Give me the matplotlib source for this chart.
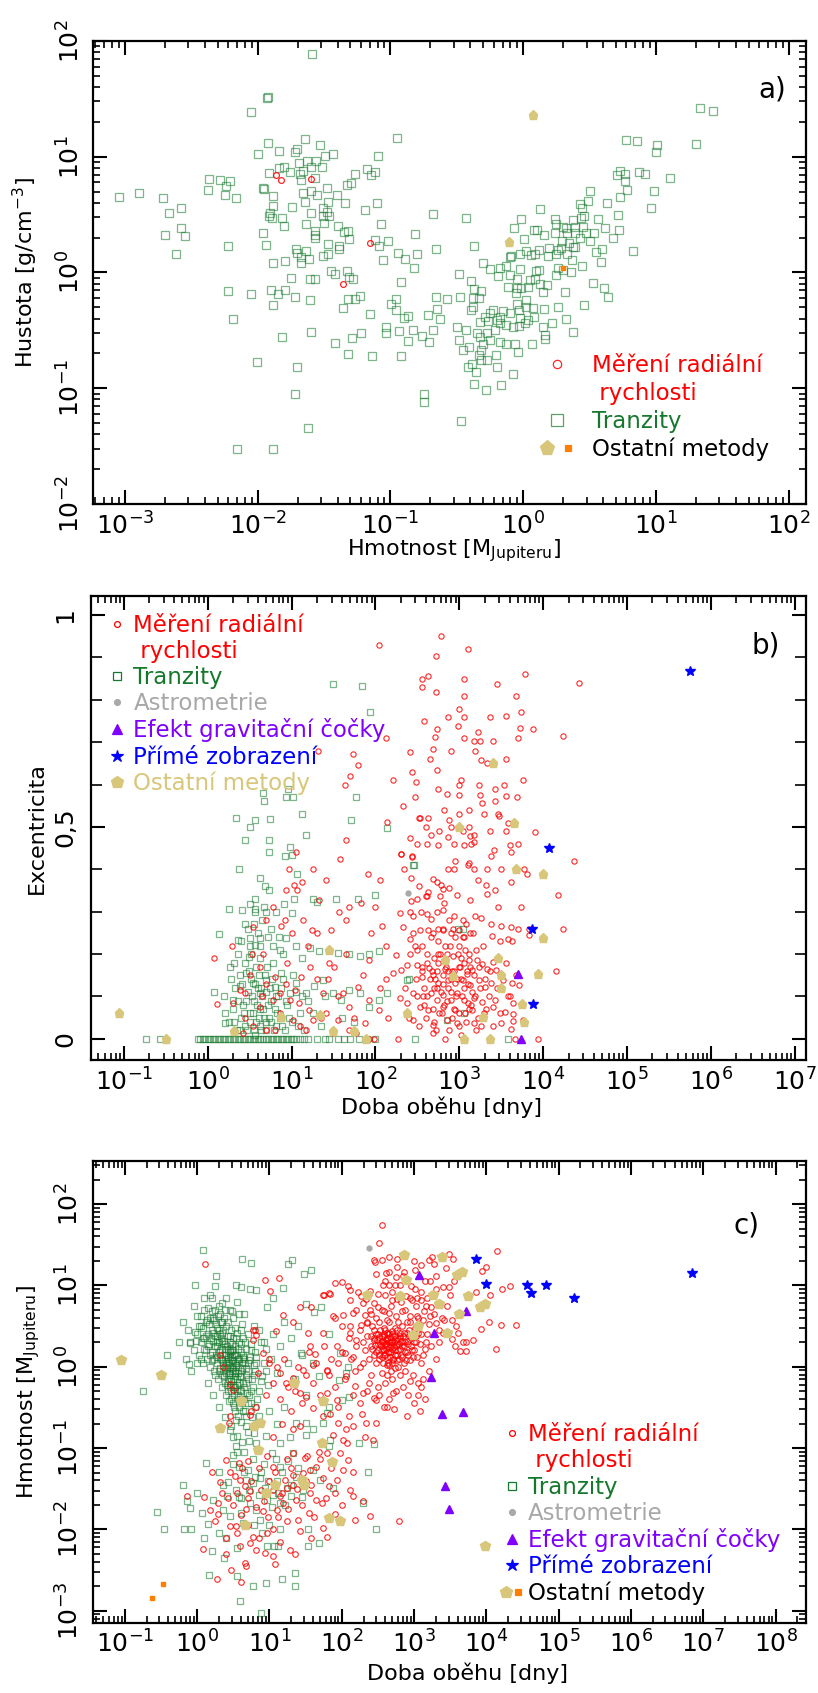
import numpy as np
import matplotlib.pyplot as plt
from matplotlib.lines import Line2D
from matplotlib.legend_handler import HandlerTuple
from matplotlib.ticker import LogLocator, NullFormatter, MultipleLocator

RED = '#ff0000'
GREEN = '#16782c'
GRAY = '#a8a8a8'
PURPLE = '#8000ff'
BLUE = '#0000ff'
KHAKI = '#d8c67a'
ORANGE = '#ff7f00'

# all pairs: (log10 x, log10 y) for a) and c), (log10 P, e) for b)

# ---- a) hmotnost vs hustota
a_transit = [
    (-1.588, 1.888), (-1.93, 1.51), (-1.92, 1.52), (-2.048, 1.386), (-0.95, 1.164), (-1.922, 1.12),
    (-1.64, 1.153), (-1.84, 1.05), (-2.0, 1.02), (-1.706, 1.066), (-1.72, 1.04), (-1.53, 1.10),
    (-1.435, 1.026), (-1.49, 1.006), (-1.095, 1.01), (-1.69, 0.942), (-1.626, 0.965), (-1.56, 0.96),
    (-1.515, 0.914), (-1.6, 0.914), (-1.80, 0.91), (-1.84, 0.905), (-1.915, 0.856), (-1.756, 0.87),
    (-1.68, 0.847), (-1.656, 0.876), (-1.568, 0.818), (-1.67, 0.80), (-1.266, 0.85), (-1.173, 0.893),
    (-1.113, 0.87), (-1.146, 0.844), (-1.294, 0.775), (-1.33, 0.755),
    (-3.045, 0.654), (-2.89, 0.689), (-2.71, 0.643), (-2.67, 0.516), (-2.575, 0.556), (-2.58, 0.38),
    (-2.55, 0.314), (-2.70, 0.323), (-2.616, 0.164), (-2.364, 0.81), (-2.284, 0.80), (-2.21, 0.79),
    (-2.24, 0.75), (-2.374, 0.715), (-2.246, 0.67), (-2.163, 0.643), (-2.224, 0.233), (-2.224, -0.164),
    (-2.186, -0.40), (-2.05, -0.184), (-2.005, -0.772), (-2.156, -1.525), (-1.887, -1.525),
    (-1.62, -1.34), (-1.72, -1.05), (-1.70, -0.82), (-1.82, -0.553),
    (-1.96, 0.727), (-1.955, 0.72), (-1.882, 0.66), (-1.887, 0.576), (-1.907, 0.513), (-1.915, 0.49),
    (-1.894, 0.467), (-1.817, 0.47), (-1.80, 0.398), (-1.96, 0.337), (-1.94, 0.24), (-1.887, 0.078),
    (-1.794, 0.098), (-1.74, 0.565), (-1.66, 0.69), (-1.64, 0.605), (-1.60, 0.706), (-1.55, 0.67),
    (-1.48, 0.732), (-1.47, 0.608), (-1.40, 0.67), (-1.34, 0.60), (-1.595, 0.51), (-1.505, 0.553),
    (-1.48, 0.52), (-1.46, 0.49), (-1.51, 0.487), (-1.50, 0.43), (-1.633, 0.418), (-1.57, 0.36),
    (-1.565, 0.30), (-1.568, 0.32), (-1.397, 0.398), (-1.35, 0.35), (-1.32, 0.357), (-1.31, 0.288),
    (-1.467, 0.25), (-1.467, 0.16), (-1.39, 0.233), (-1.385, 0.20), (-1.71, 0.20), (-1.706, 0.17),
    (-1.636, 0.187), (-1.67, 0.13), (-1.613, 0.115), (-1.676, 0.084), (-1.51, 0.14), (-1.746, -0.046),
    (-1.606, -0.055), (-1.568, -0.06), (-1.445, 0.009), (-1.417, -0.01), (-1.324, 0.009), (-1.31, -0.043),
    (-1.28, -0.06), (-1.90, -0.153), (-1.796, -0.15), (-1.85, -0.187), (-1.887, -0.277), (-1.72, -0.21),
    (-1.603, -0.24), (-1.60, -0.51), (-1.42, -0.605), (-1.36, -0.303), (-1.32, -0.23), (-1.266, -0.23),
    (-1.226, -0.20), (-1.156, -0.357), (-1.224, -0.525), (-1.286, -0.57), (-1.317, -0.70), (-1.136, -0.723),
    (-1.03, -0.475), (-1.03, -0.527),
    (-1.068, 0.415), (-1.115, 0.28), (-1.083, 0.23), (-1.055, 0.11), (-1.015, 0.275), (-1.103, 0.60),
    (-1.19, 0.536), (-0.945, 0.17), (-0.89, 0.115), (-0.814, 0.33), (-0.80, 0.16), (-0.82, 0.04),
    (-0.676, 0.507), (-0.656, 0.20), (-0.92, -0.084), (-0.957, -0.225), (-0.996, -0.268), (-0.957, -0.325),
    (-0.897, -0.389), (-0.867, -0.378), (-0.932, -0.507), (-0.865, -0.594), (-0.829, -0.50), (-0.76, -0.55),
    (-0.706, -0.60), (-0.676, -0.50), (-0.92, -0.723), (-0.656, -0.21), (-0.575, -0.228), (-0.72, -0.37),
    (-0.65, -0.314), (-0.626, -0.406), (-0.746, -1.046), (-0.746, -1.118),
    (1.33, 1.42), (1.43, 1.395), (0.774, 1.147), (0.854, 1.138), (1.01, 1.10), (1.0, 1.04), (1.30, 1.11),
    (1.105, 0.82), (0.726, 0.88), (0.708, 0.84), (0.769, 0.847), (0.769, 0.79), (0.874, 0.865), (0.92, 0.847),
    (0.78, 0.71), (0.985, 0.706), (0.965, 0.553), (0.729, 0.648), (0.63, 0.60), (0.50, 0.70), (0.49, 0.617),
    (0.43, 0.59), (0.44, 0.553), (0.455, 0.49), (0.435, 0.467), (0.711, 0.496), (0.56, 0.458), (0.72, 0.366),
    (0.68, 0.297), (0.618, 0.38), (0.535, 0.343), (0.505, 0.274), (0.593, 0.20), (0.55, 0.173), (0.585, 0.092),
    (0.827, 0.187), (0.377, 0.45), (0.394, 0.395), (0.45, 0.395), (0.47, 0.337), (0.32, 0.38), (0.327, 0.343),
    (0.394, 0.337), (0.427, 0.294), (0.24, 0.464), (0.25, 0.415), (0.30, 0.395), (0.24, 0.337), (0.128, 0.545),
    (-0.018, 0.46), (-0.07, 0.38), (0.008, 0.288), (0.083, 0.366), (0.105, 0.366), (0.156, 0.323), (0.29, 0.27),
    (0.347, 0.254), (0.372, 0.222), (0.392, 0.216), (0.286, 0.213), (0.33, 0.164), (0.196, 0.21), (0.264, 0.193),
    (0.25, 0.164), (0.188, 0.141), (0.12, 0.193), (0.09, 0.164), (0.058, 0.15), (0.025, 0.184), (-0.025, 0.164),
    (-0.088, 0.144), (0.364, 0.107), (0.442, 0.055), (0.36, 0.0), (0.30, 0.02), (0.25, -0.023), (0.266, 0.04),
    (0.523, -0.095), (0.605, -0.13), (0.64, -0.21), (0.455, -0.28), (0.372, -0.51), (0.32, -0.40), (0.314, -0.167),
    (0.266, -0.30), (0.214, -0.438), (0.163, -0.574), (0.163, -0.539), (0.07, -0.614), (0.15, -0.473),
    (0.156, -0.317), (0.118, 0.02), (0.10, 0.014), (0.088, -0.06), (0.05, -0.066), (0.038, -0.124),
    (-0.013, -0.138), (-0.055, -0.176), (0.146, -0.167), (0.126, -0.10), (0.176, -0.11), (0.025, -0.24),
    (0.02, -0.297), (0.075, -0.31), (0.08, -0.383), (0.033, -0.41), (-0.025, -0.39), (-0.05, -0.27),
    (-0.033, -0.326), (-0.10, -0.354), (-0.15, -0.33), (-0.176, -0.383), (-0.126, -0.455), (-0.075, -0.47),
    (-0.035, -0.458), (0.01, -0.435), (-0.226, -0.326), (-0.25, -0.354), (-0.264, -0.418), (-0.20, -0.412),
    (-0.176, -0.44), (-0.29, -0.383), (-0.214, -0.50), (-0.276, -0.527), (-0.327, -0.427), (-0.35, -0.527),
    (-0.377, -0.297), (-0.39, -0.326), (-0.314, -0.16), (-0.30, 0.078), (-0.25, 0.026), (-0.176, 0.04),
    (-0.126, 0.055), (-0.186, -0.03), (-0.10, -0.023), (-0.05, -0.055), (-0.118, -0.124), (-0.05, -0.138),
    (-0.025, 0.026), (-0.10, 0.135), (-0.372, 0.23), (-0.427, 0.475), (-0.48, -0.017), (-0.394, -0.072),
    (-0.37, -0.144), (-0.33, -0.22), (-0.477, -0.21), (-0.377, -0.22), (-0.50, -0.47), (-0.427, -0.50),
    (-0.407, -0.643), (-0.452, -0.666), (-0.48, -0.585), (-0.327, -0.556), (-0.30, -0.62), (-0.25, -0.585),
    (-0.176, -0.60), (-0.126, -0.614), (-0.063, -0.62), (-0.038, -0.686), (-0.314, -0.666), (-0.334, -0.715),
    (-0.314, -0.758), (-0.27, -0.758), (-0.206, -0.715), (-0.196, -0.815), (-0.415, -0.82), (-0.382, -0.79),
    (-0.357, -0.86), (-0.372, -0.96), (-0.281, -1.017), (-0.17, -0.968), (-0.08, -0.88), (-0.472, -1.28),
]
a_rv = [(-1.862, 0.84), (-1.824, 0.80), (-1.595, 0.807), (-1.156, 0.256), (-1.36, -0.098)]
a_other = [(0.075, 1.36), (-0.105, 0.265)]
a_other_sq = [(0.30, 0.037)]

# ---- b) doba obehu vs excentricita
b_rv = [
    (2.04, 0.93), (2.78, 0.95), (2.72, 0.903), (3.10, 0.92), (3.78, 0.86), (4.43, 0.84), (2.55, 0.829),
    (2.63, 0.856), (2.56, 0.85), (3.05, 0.85), (3.45, 0.837), (3.67, 0.81), (2.72, 0.818), (3.05, 0.81),
    (3.0, 0.778), (3.74, 0.77), (3.55, 0.762), (3.37, 0.76), (3.06, 0.759), (2.86, 0.76), (2.58, 0.75),
    (2.98, 0.739), (4.24, 0.714), (3.88, 0.73), (3.72, 0.733), (3.70, 0.71), (3.22, 0.724), (2.73, 0.73),
    (2.71, 0.712), (2.12, 0.71), (3.05, 0.709), (3.18, 0.702), (3.25, 0.702), (3.40, 0.702), (2.69, 0.685),
    (2.90, 0.68), (3.19, 0.68), (3.26, 0.657), (3.33, 0.65), (3.55, 0.66), (2.41, 0.677), (2.65, 0.661),
    (1.73, 0.673), (1.79, 0.645), (1.31, 0.68), (2.73, 0.634), (2.43, 0.63), (1.70, 0.62), (1.64, 0.60),
    (2.21, 0.61), (2.48, 0.605), (3.02, 0.61), (2.99, 0.60), (3.23, 0.60), (3.42, 0.59), (3.76, 0.61),
    (3.53, 0.60), (2.74, 0.59), (2.47, 0.57), (2.85, 0.578), (2.99, 0.576), (3.25, 0.576), (3.55, 0.573),
    (3.69, 0.57), (3.42, 0.562), (2.33, 0.55), (2.82, 0.54), (3.11, 0.54), (3.46, 0.53), (3.47, 0.525),
    (3.29, 0.53), (2.99, 0.53), (2.52, 0.52), (2.63, 0.52), (2.14, 0.512), (2.90, 0.50), (3.11, 0.50),
    (3.58, 0.51), (3.65, 0.51), (3.36, 0.49), (3.55, 0.49), (2.60, 0.50), (2.66, 0.48), (2.76, 0.49),
    (3.17, 0.48), (3.13, 0.478), (2.87, 0.476), (3.04, 0.49), (3.90, 0.488), (2.50, 0.459), (2.61, 0.459),
    (2.745, 0.457), (2.93, 0.46), (3.06, 0.457), (3.14, 0.46), (3.60, 0.457), (1.65, 0.468), (2.31, 0.436),
    (2.43, 0.432), (3.38, 0.432), (4.36, 0.42),
    (2.53, 0.52), (2.88, 0.517), (3.27, 0.556), (2.41, 0.473), (2.31, 0.435), (2.44, 0.43), (3.17, 0.465),
    (3.41, 0.446), (3.70, 0.46), (3.62, 0.44),
    (2.34, 0.40), (2.42, 0.38), (2.52, 0.36), (2.63, 0.346), (2.73, 0.37), (2.81, 0.353), (2.97, 0.34),
    (3.17, 0.40), (3.22, 0.375), (3.32, 0.363), (3.42, 0.35), (3.33, 0.342), (3.62, 0.37), (3.73, 0.31),
    (3.46, 0.31), (3.50, 0.267), (3.61, 0.263), (3.77, 0.40), (3.80, 0.39), (3.67, 0.40), (3.33, 0.40),
    (3.49, 0.40), (2.86, 0.40), (2.93, 0.40), (3.10, 0.41), (3.11, 0.415), (2.95, 0.42), (2.68, 0.377),
    (2.78, 0.364), (2.50, 0.33), (2.60, 0.337), (2.42, 0.326), (2.62, 0.336), (2.77, 0.336), (2.88, 0.357),
    (2.82, 0.32), (3.13, 0.328), (3.19, 0.29), (3.26, 0.285), (3.38, 0.27), (3.385, 0.243), (3.48, 0.23),
    (3.58, 0.235), (3.63, 0.23), (3.70, 0.26), (3.83, 0.244), (3.83, 0.26), (4.15, 0.16), (4.23, 0.26),
    (4.17, 0.34),
    (2.29, 0.296), (2.41, 0.30), (2.45, 0.29), (2.54, 0.30), (2.61, 0.295), (2.66, 0.283), (2.73, 0.30),
    (2.81, 0.303), (2.88, 0.28), (2.94, 0.29), (3.04, 0.28), (3.08, 0.27), (3.13, 0.25), (3.06, 0.24),
    (3.0, 0.257), (2.90, 0.25), (2.81, 0.257), (2.74, 0.26), (2.69, 0.25), (2.63, 0.257), (2.53, 0.257),
    (2.41, 0.235), (2.33, 0.263), (2.45, 0.25),
    (2.25, 0.198), (2.41, 0.20), (2.49, 0.21), (2.61, 0.20), (2.70, 0.19), (2.77, 0.20), (2.83, 0.186),
    (2.92, 0.196), (3.02, 0.19), (3.11, 0.185), (3.21, 0.186), (3.27, 0.177), (3.33, 0.164), (3.40, 0.182),
    (3.44, 0.163), (3.15, 0.163), (3.09, 0.153), (3.0, 0.169), (2.91, 0.159), (2.83, 0.164), (2.73, 0.161),
    (2.64, 0.167), (2.56, 0.159), (2.49, 0.175), (2.37, 0.175), (2.30, 0.163), (2.21, 0.156), (2.56, 0.147),
    (2.69, 0.151), (2.75, 0.131), (2.86, 0.138), (2.95, 0.131), (3.04, 0.139), (3.13, 0.127), (3.23, 0.139),
    (3.31, 0.123), (3.38, 0.131), (3.52, 0.139), (3.63, 0.131), (3.71, 0.126),
    (2.45, 0.108), (2.57, 0.10), (2.66, 0.108), (2.73, 0.092), (2.81, 0.104), (2.90, 0.092), (2.97, 0.108),
    (3.05, 0.092), (3.10, 0.084), (3.17, 0.096), (3.27, 0.088), (3.35, 0.10), (3.42, 0.092), (3.58, 0.10),
    (3.64, 0.084), (2.29, 0.096), (2.37, 0.084), (2.53, 0.076), (2.63, 0.068), (2.81, 0.076), (2.95, 0.068),
    (3.07, 0.06), (3.15, 0.068), (3.29, 0.06), (3.40, 0.076), (3.54, 0.064), (3.64, 0.059), (2.45, 0.045),
    (2.69, 0.033), (2.85, 0.045), (2.97, 0.037), (3.17, 0.037), (3.50, 0.037), (3.62, 0.023), (2.27, 0.0),
    (2.83, 0.0), (3.66, 0.0), (3.94, 0.0), (2.69, 0.013), (3.76, 0.045), (3.64, 0.041),
    (2.7, 0.12), (2.85, 0.2), (3.0, 0.22), (2.9, 0.14), (3.05, 0.18), (2.95, 0.24), (3.1, 0.13), (2.8, 0.15),
    (3.2, 0.21), (2.75, 0.23), (2.65, 0.14), (3.15, 0.11),
    (2.35, 0.12), (2.40, 0.05), (2.48, 0.14), (2.52, 0.03), (2.55, 0.22), (2.58, 0.12), (2.60, 0.05),
    (2.62, 0.18), (2.66, 0.24), (2.68, 0.07), (2.71, 0.14), (2.74, 0.20), (2.76, 0.06), (2.78, 0.11),
    (2.80, 0.26), (2.82, 0.08), (2.84, 0.17), (2.87, 0.12), (2.89, 0.22), (2.91, 0.05), (2.93, 0.16),
    (2.96, 0.10), (2.98, 0.20), (3.00, 0.06), (3.02, 0.14), (3.04, 0.24), (3.06, 0.12), (3.08, 0.04),
    (3.12, 0.20), (3.14, 0.08), (3.18, 0.15), (3.22, 0.05), (3.25, 0.12), (3.28, 0.22), (3.32, 0.07),
    (3.36, 0.16), (3.40, 0.03), (3.45, 0.12), (3.48, 0.06), (3.55, 0.18), (3.60, 0.10), (3.68, 0.15),
    (2.88, 0.02), (2.72, 0.02), (3.02, 0.01), (3.20, 0.02),
    (2.62, 0.10), (2.67, 0.16), (2.70, 0.04), (2.73, 0.12), (2.75, 0.18), (2.79, 0.06), (2.81, 0.13),
    (2.83, 0.22), (2.85, 0.09), (2.87, 0.16), (2.90, 0.11), (2.92, 0.26), (2.94, 0.07), (2.97, 0.14),
    (2.99, 0.03), (3.01, 0.17), (3.03, 0.10), (3.07, 0.21), (3.09, 0.16), (3.11, 0.07), (3.13, 0.17),
    (3.16, 0.25), (3.19, 0.10), (3.23, 0.17), (3.26, 0.03), (3.30, 0.14), (2.58, 0.08), (2.55, 0.17),
    (2.50, 0.10), (2.47, 0.22),
    (1.20, 0.22), (1.35, 0.05), (1.45, 0.18), (1.55, 0.10), (1.65, 0.20), (1.75, 0.05), (1.85, 0.15),
    (1.95, 0.25), (2.05, 0.12), (2.15, 0.05), (0.95, 0.18), (1.10, 0.03), (0.80, 0.02), (0.65, 0.10),
    (0.50, 0.15), (0.45, 0.05), (1.00, 0.25), (1.30, 0.25),
    (1.25, 0.40), (1.03, 0.363), (1.13, 0.37), (0.93, 0.35), (1.06, 0.35), (0.97, 0.40), (1.41, 0.375),
    (1.58, 0.424), (1.69, 0.31), (1.57, 0.30), (1.47, 0.257), (1.24, 0.257), (1.14, 0.28), (0.92, 0.28),
    (0.78, 0.31), (0.70, 0.28), (0.54, 0.263), (0.29, 0.218), (0.08, 0.19), (0.115, 0.083), (0.30, 0.084),
    (0.44, 0.108), (0.53, 0.20), (0.66, 0.20), (0.62, 0.17), (0.70, 0.13), (0.80, 0.147), (0.86, 0.108),
    (0.98, 0.092), (1.04, 0.116), (1.11, 0.147), (1.22, 0.17), (1.30, 0.14), (1.37, 0.108), (1.44, 0.14),
    (1.51, 0.17), (1.61, 0.108), (1.69, 0.076), (1.79, 0.123), (1.92, 0.186), (2.08, 0.265), (2.0, 0.31),
    (2.05, 0.375), (1.91, 0.39), (2.12, 0.218), (1.92, 0.092), (2.04, 0.068), (2.12, 0.14), (1.69, 0.021),
    (1.49, 0.013), (1.17, 0.021), (1.02, 0.045), (0.86, 0.06), (0.70, 0.021), (0.54, 0.03), (0.42, 0.013),
    (1.55, 0.045), (1.41, 0.06), (1.21, 0.068), (1.09, 0.084), (1.25, 0.045), (1.87, 0.037), (1.77, 0.013),
    (1.98, 0.0), (1.92, 0.0), (1.65, 0.28), (1.83, 0.32), (1.33, 0.328), (1.055, 0.44), (0.88, 0.265),
    (0.38, 0.115), (0.62, 0.076), (0.78, 0.092), (0.94, 0.13),
]
b_transit = [
    (1.50, 0.837), (1.845, 0.833), (1.94, 0.771),
    (0.66, 0.58), (0.67, 0.562), (0.96, 0.59), (1.02, 0.57), (0.93, 0.57), (1.77, 0.57), (1.12, 0.53),
    (0.34, 0.52), (0.57, 0.517), (0.74, 0.518), (0.51, 0.50), (1.71, 0.516), (2.14, 0.497), (0.45, 0.47),
    (0.73, 0.47), (1.17, 0.48), (0.73, 0.44), (0.92, 0.432), (0.98, 0.452), (1.01, 0.433), (0.37, 0.40),
    (0.62, 0.38), (1.06, 0.39), (0.26, 0.307), (0.415, 0.304), (0.56, 0.306), (0.565, 0.33), (0.51, 0.318),
    (0.67, 0.312), (0.73, 0.35), (0.905, 0.317), (1.0, 0.298), (1.035, 0.33), (1.25, 0.33), (1.30, 0.323),
    (1.53, 0.33), (1.795, 0.33), (0.13, 0.247), (0.36, 0.232), (0.50, 0.238), (0.62, 0.237), (0.32, 0.18),
    (0.27, 0.17), (0.49, 0.194), (0.57, 0.222), (0.78, 0.218), (0.86, 0.21), (0.94, 0.237), (1.055, 0.219),
    (1.13, 0.19), (1.225, 0.215), (1.33, 0.206), (1.55, 0.202), (1.69, 0.20), (1.81, 0.196), (1.92, 0.20),
    (2.04, 0.206), (0.08, 0.11), (0.21, 0.06), (0.206, 0.038), (0.30, 0.092), (0.38, 0.124), (0.46, 0.155),
    (0.54, 0.131), (0.62, 0.108), (0.70, 0.139), (0.80, 0.123), (0.88, 0.155), (0.98, 0.108), (1.055, 0.131),
    (1.17, 0.108), (1.27, 0.124), (1.37, 0.139), (1.49, 0.108), (1.59, 0.092), (1.69, 0.115), (1.81, 0.108),
    (1.92, 0.076), (2.04, 0.092), (2.14, 0.108),
    (0.35, 0.02), (0.40, 0.05), (0.42, 0.08), (0.45, 0.03), (0.48, 0.11), (0.50, 0.06), (0.52, 0.14),
    (0.55, 0.02), (0.55, 0.09), (0.58, 0.04), (0.58, 0.17), (0.60, 0.12), (0.62, 0.03), (0.63, 0.07),
    (0.65, 0.10), (0.67, 0.05), (0.68, 0.15), (0.70, 0.02), (0.72, 0.08), (0.74, 0.12), (0.76, 0.04),
    (0.78, 0.18), (0.80, 0.07), (0.82, 0.03), (0.84, 0.10), (0.86, 0.05), (0.90, 0.14), (0.92, 0.02),
    (0.95, 0.08), (1.0, 0.04), (1.05, 0.11), (1.1, 0.06), (1.15, 0.02), (1.2, 0.09), (0.45, 0.18),
    (0.52, 0.20), (0.6, 0.25), (0.65, 0.28), (0.55, 0.27), (0.7, 0.30), (0.4, 0.23), (0.48, 0.26),
    (0.75, 0.26), (0.85, 0.24), (0.62, 0.19), (0.38, 0.15), (0.33, 0.12), (0.3, 0.07), (0.25, 0.04),
    (0.2, 0.1), (2.46, 0.41), (3.04, 0.26), (3.06, 0.06), (2.85, 0.045), (2.37, 0.139), (2.45, 0.41),
    (2.0, 0.34), (2.40, 0.14), (2.98, 0.26),
    (0.32, 0.04), (0.36, 0.09), (0.38, 0.02), (0.41, 0.13), (0.43, 0.06), (0.46, 0.09), (0.47, 0.02),
    (0.49, 0.16), (0.51, 0.04), (0.53, 0.10), (0.54, 0.06), (0.56, 0.13), (0.57, 0.01), (0.59, 0.08),
    (0.61, 0.15), (0.61, 0.05), (0.64, 0.02), (0.64, 0.12), (0.66, 0.07), (0.69, 0.04), (0.69, 0.11),
    (0.71, 0.17), (0.73, 0.05), (0.75, 0.09), (0.77, 0.14), (0.79, 0.02), (0.81, 0.10), (0.83, 0.06),
    (0.87, 0.12), (0.89, 0.03), (0.93, 0.09), (0.97, 0.05), (1.02, 0.15), (1.08, 0.03), (1.12, 0.10),
    (1.25, 0.06), (1.35, 0.03), (1.40, 0.10), (1.60, 0.05), (1.75, 0.04), (0.50, 0.22), (0.57, 0.30),
    (0.63, 0.22), (0.68, 0.36), (0.72, 0.24), (0.44, 0.27), (0.36, 0.20), (0.82, 0.30), (0.90, 0.20),
    (0.28, 0.14),
    (-0.74, 0.0), (-0.57, 0.0), (-0.12, 0.0), (-0.09, 0.0), (-0.06, 0.0), (-0.03, 0.0), (0.0, 0.0),
    (0.03, 0.0), (0.06, 0.0), (0.09, 0.0), (0.12, 0.0), (0.15, 0.0), (0.18, 0.0), (0.21, 0.0), (0.24, 0.0),
    (0.27, 0.0), (0.30, 0.0), (0.33, 0.0), (0.36, 0.0), (0.39, 0.0), (0.42, 0.0), (0.45, 0.0), (0.48, 0.0),
    (0.51, 0.0), (0.54, 0.0), (0.57, 0.0), (0.60, 0.0), (0.63, 0.0), (0.66, 0.0), (0.69, 0.0), (0.72, 0.0),
    (0.75, 0.0), (0.78, 0.0), (0.81, 0.0), (0.84, 0.0), (0.87, 0.0), (0.90, 0.0), (0.93, 0.0), (0.96, 0.0),
    (0.99, 0.0), (1.02, 0.0), (1.05, 0.0), (1.1, 0.0), (1.15, 0.0), (1.2, 0.0), (1.3, 0.0), (1.4, 0.0),
    (1.45, 0.0), (1.55, 0.0), (1.62, 0.0), (1.7, 0.0), (1.8, 0.0), (1.9, 0.0), (2.0, 0.0), (2.47, 0.0),
    (3.58, 0.0),
]
b_astrometry = [(2.39, 0.345)]
b_lensing = [(3.70, 0.152), (3.74, 0.0)]
b_imaging = [(5.75, 0.869), (4.07, 0.45), (3.86, 0.26), (3.88, 0.081)]
b_other = [
    (-1.05, 0.06), (-0.50, 0.0), (3.40, 0.65), (3.0, 0.50), (3.65, 0.51), (3.67, 0.40), (4.0, 0.39),
    (4.0, 0.237), (3.94, 0.152), (3.46, 0.19), (3.50, 0.15), (3.50, 0.12), (3.75, 0.081), (3.77, 0.04),
    (3.37, 0.0), (3.06, 0.0), (2.83, 0.185), (2.92, 0.148), (2.37, 0.06), (1.89, 0.0), (1.75, 0.018),
    (1.50, 0.018), (1.45, 0.21), (1.34, 0.057), (0.88, 0.052), (0.32, 0.018), (3.28, 0.052),
]

# ---- c) doba obehu vs hmotnost
c_rv = [
    (2.56, 1.74), (2.51, 1.525), (4.15, 1.426), (3.49, 1.385), (3.54, 1.33), (3.25, 1.35), (3.21, 1.316),
    (3.27, 1.266), (3.0, 1.30), (3.09, 1.25), (3.01, 1.19), (3.44, 1.213), (3.94, 1.176), (4.0, 1.225),
    (2.76, 1.324), (2.66, 1.35), (2.55, 1.31), (2.44, 1.315), (2.46, 1.29), (2.65, 1.17), (2.61, 1.15),
    (2.76, 1.225), (2.86, 1.164), (2.75, 1.10), (2.48, 1.14), (3.31, 1.115), (3.22, 1.06), (3.40, 0.975),
    (3.48, 0.98), (3.55, 1.05), (3.86, 0.92), (4.22, 0.955), (4.33, 0.988), (4.05, 0.885), (4.04, 0.55),
    (4.20, 0.517), (4.41, 0.51), (3.92, 0.463), (4.13, 0.217), (3.81, 0.33), (3.68, 0.303), (3.72, 0.19),
    (1.91, 1.03), (2.0, 1.037), (2.09, 0.99), (2.12, 0.94), (1.75, 0.885), (1.84, 0.897), (2.23, 0.918),
    (2.39, 0.926), (2.38, 0.89), (2.26, 0.865), (2.33, 0.836), (2.57, 1.0), (2.65, 1.01), (2.74, 1.0),
    (2.81, 1.0), (2.96, 0.99), (3.01, 0.95), (3.04, 0.84), (3.10, 0.82), (3.17, 0.75), (3.24, 0.74),
    (2.89, 0.865), (2.97, 0.82), (2.60, 0.885), (2.69, 0.82), (2.76, 0.83), (2.50, 0.74), (2.58, 0.69),
    (2.66, 0.66), (2.45, 0.78), (2.39, 0.70), (2.32, 0.64), (2.16, 0.66), (2.02, 0.64), (1.91, 0.60),
    (2.12, 0.495), (2.26, 0.516), (2.35, 0.537), (2.83, 0.68), (2.94, 0.62), (3.04, 0.62), (3.12, 0.578),
    (3.22, 0.62), (3.31, 0.537), (3.41, 0.578), (3.52, 0.578), (3.58, 0.496), (3.40, 0.414), (3.35, 0.30),
    (3.57, 0.25), (3.64, 0.19), (3.72, 0.30), (3.52, 0.34), (3.61, 0.414),
    (2.25, 0.45), (2.30, 0.30), (2.32, 0.20), (2.35, 0.38), (2.38, 0.10), (2.40, 0.25), (2.42, 0.50),
    (2.44, 0.33), (2.45, 0.15), (2.47, 0.40), (2.48, 0.05), (2.50, 0.28), (2.50, 0.20), (2.52, 0.36),
    (2.53, 0.45), (2.55, 0.12), (2.55, 0.30), (2.57, 0.22), (2.58, 0.38), (2.60, 0.28), (2.60, 0.15),
    (2.61, 0.33), (2.62, 0.42), (2.63, 0.25), (2.64, 0.05), (2.65, 0.30), (2.66, 0.18), (2.67, 0.36),
    (2.68, 0.27), (2.70, 0.22), (2.70, 0.40), (2.71, 0.10), (2.72, 0.31), (2.73, 0.48), (2.75, 0.26),
    (2.76, 0.15), (2.77, 0.35), (2.78, 0.00), (2.80, 0.22), (2.80, 0.42), (2.82, 0.30), (2.84, 0.12),
    (2.85, 0.38), (2.86, 0.25), (2.88, -0.05), (2.90, 0.18), (2.92, 0.32), (2.93, 0.45), (2.95, 0.08),
    (2.96, 0.26), (2.98, -0.10), (3.00, 0.20), (3.02, 0.38), (3.04, 0.12), (3.05, -0.20), (3.08, 0.28),
    (3.10, 0.05), (3.12, -0.15), (3.15, 0.22), (3.18, 0.40), (3.20, -0.05), (2.55, -0.08), (2.60, -0.20),
    (2.70, -0.15), (2.75, -0.30), (2.85, -0.25), (2.92, -0.35), (3.00, -0.45), (3.05, -0.35), (3.10, -0.25),
    (2.65, -0.40), (2.58, -0.50), (2.45, -0.38), (2.50, -0.25), (2.40, -0.10), (2.35, -0.30), (2.30, 0.05),
    (2.20, 0.25), (2.15, 0.12), (2.10, 0.35), (2.18, -0.05), (2.05, -0.15), (2.00, 0.18), (1.95, 0.05),
    (1.90, -0.25), (1.85, 0.10), (1.80, -0.05), (1.75, 0.25), (1.70, -0.35), (1.65, 0.05), (1.60, -0.20),
    (1.55, 0.18), (1.50, -0.10), (1.45, -0.45), (1.40, 0.00), (1.35, -0.30), (1.30, -0.55), (1.25, -0.25),
    (1.20, 0.10), (1.15, -0.40), (1.10, 0.00), (1.05, -0.20), (1.00, 0.05), (0.95, -0.35),
    (2.42, 0.22), (2.45, 0.35), (2.48, 0.18), (2.50, 0.40), (2.52, 0.10), (2.53, 0.28), (2.55, 0.20),
    (2.56, 0.38), (2.57, 0.05), (2.58, 0.30), (2.59, 0.15), (2.60, 0.45), (2.61, 0.22), (2.62, 0.34),
    (2.63, 0.12), (2.64, 0.40), (2.65, 0.24), (2.66, 0.02), (2.67, 0.30), (2.68, 0.18), (2.69, 0.44),
    (2.70, 0.32), (2.71, 0.08), (2.72, 0.24), (2.73, 0.38), (2.74, 0.15), (2.76, 0.28), (2.77, 0.45),
    (2.78, 0.20), (2.79, 0.10), (2.81, 0.35), (2.83, 0.25), (2.84, 0.50), (2.86, 0.05), (2.88, 0.30),
    (2.90, 0.42), (2.92, 0.15), (2.94, 0.55), (2.96, 0.35), (2.98, 0.12), (3.01, 0.48), (3.03, 0.30),
    (3.06, 0.60), (3.09, 0.40), (3.12, 0.15), (3.14, 0.68), (3.16, 0.30), (3.20, 0.52), (3.24, 0.25),
    (3.28, 0.65), (3.30, 0.10), (3.35, 0.45), (2.35, 0.55), (2.40, 0.65), (2.48, 0.60), (2.55, 0.70),
    (2.62, 0.58), (2.68, 0.75), (2.75, 0.62), (2.82, 0.80), (2.88, 0.70), (2.95, 0.85), (3.02, 0.75),
    (3.10, 0.92), (3.18, 0.85), (2.30, 0.78), (2.20, 0.70), (2.12, 0.82), (2.50, 0.90), (2.60, 1.05),
    (2.70, 0.92), (2.85, 1.12), (3.15, 1.05), (3.30, 0.95), (3.38, 0.60), (3.45, 0.75), (3.50, 0.88),
    (2.38, -0.20), (2.52, -0.35), (2.62, -0.10), (2.72, -0.52), (2.80, -0.10), (2.90, -0.60), (2.95, -0.18),
    (3.08, -0.55), (3.15, -0.40), (2.25, -0.45), (2.10, -0.60), (1.95, -0.50), (2.15, -0.35), (2.28, -0.58),
    (2.46, 0.27), (2.49, 0.33), (2.51, 0.15), (2.54, 0.25), (2.56, 0.32), (2.58, 0.20), (2.59, 0.40),
    (2.61, 0.28), (2.63, 0.35), (2.64, 0.18), (2.66, 0.42), (2.67, 0.12), (2.69, 0.30), (2.70, 0.05),
    (2.72, 0.38), (2.73, 0.20), (2.75, 0.33), (2.77, 0.08), (2.79, 0.28), (2.80, 0.38), (2.82, 0.15),
    (2.84, 0.32), (2.86, 0.42), (2.87, 0.18), (2.89, 0.08), (2.91, 0.28), (2.93, 0.38), (2.97, 0.20),
    (3.00, 0.30), (3.05, 0.42), (2.62, 0.02), (2.68, -0.05), (2.74, -0.02), (2.58, 0.48), (2.66, 0.55),
    (2.78, 0.55), (2.90, 0.55), (2.52, 0.55), (2.44, 0.45), (2.40, 0.38),
    (1.13, 1.09), (0.115, 1.26), (0.945, 1.07), (1.01, 0.93), (1.19, 0.64), (1.32, 0.545), (0.77, 0.455),
    (0.82, 0.39), (1.09, 0.44), (1.15, -0.08), (1.235, -0.20), (1.42, 0.74), (1.58, 0.74), (1.74, 0.877),
    (1.83, 0.906), (1.53, 0.414), (1.74, 0.414), (1.56, 0.25), (1.63, 0.16), (1.79, -0.04), (1.83, -0.10),
    (1.47, -0.04), (1.60, 0.025), (1.33, -0.14), (1.42, -0.32), (1.51, -0.37), (1.60, -0.51), (1.74, -0.61),
    (1.84, -0.58), (1.95, -0.69), (2.06, -0.77), (2.16, -0.73), (2.34, -0.69), (2.48, -0.69), (2.32, -0.86),
    (2.43, -0.90), (2.02, -0.90), (1.88, -0.84), (1.42, -0.73), (1.32, -0.77), (1.17, -0.71), (1.05, -0.86),
    (0.74, -0.54), (0.82, -0.49), (0.45, -0.61), (0.44, -0.69),
    (1.88, 0.62), (2.0, 0.50), (2.11, 0.41), (2.20, 0.33), (1.93, 0.25), (2.04, 0.17), (2.13, 0.09),
    (2.25, 0.0), (2.06, -0.12), (2.18, -0.24), (2.29, -0.32), (1.79, -0.32), (1.93, -0.41), (2.48, -0.41),
    (2.62, -0.49), (2.71, -0.32),
    (0.405, -1.15), (0.576, -1.18), (0.705, -1.16), (0.31, -1.42), (0.52, -1.34), (0.59, -1.39),
    (0.66, -1.47), (0.73, -1.53), (0.89, -1.51), (0.96, -1.57), (1.05, -1.51), (1.14, -1.59), (1.24, -1.49),
    (1.33, -1.45), (1.47, -1.31), (1.56, -1.27), (1.65, -1.23), (1.74, -1.37), (1.83, -1.47), (1.93, -1.39),
    (2.02, -1.27), (2.11, -1.51), (2.16, -1.59), (2.29, -1.65), (2.39, -1.84), (2.19, -1.89), (2.79, -1.90),
    (1.91, -1.81), (1.74, -1.98), (1.79, -2.09), (1.58, -2.11), (1.42, -2.02), (1.24, -1.90), (1.28, -2.25),
    (1.05, -2.33), (1.07, -2.43), (0.935, -2.29), (0.82, -2.25), (0.66, -2.41), (0.67, -2.45), (0.475, -2.50),
    (0.28, -2.61), (0.08, -2.24), (0.59, -2.21), (0.73, -2.17), (0.54, -1.96), (0.45, -1.96), (0.405, -2.11),
    (0.29, -1.81), (0.43, -1.61), (0.50, -1.70), (0.29, -1.68), (0.175, -1.76), (-0.14, -1.59), (0.61, -1.82),
    (0.68, -1.75), (0.82, -1.72), (0.91, -1.78), (1.10, -1.76), (1.19, -1.68), (1.37, -1.64), (1.56, -1.55),
    (1.65, -1.64), (1.72, -1.68), (1.55, -1.80), (1.40, -1.88), (1.05, -2.00), (0.96, -2.05), (0.77, -2.09),
    (1.21, -1.39), (1.33, -1.33), (1.51, -1.41), (1.70, -1.14), (1.79, -1.06), (1.97, -1.06), (2.07, -0.94),
    (2.16, -1.29), (1.33, -1.06), (1.24, -1.14), (1.05, -1.23), (0.96, -1.10), (1.49, -1.12),
    (0.45, -1.30), (0.55, -1.55), (0.62, -1.25), (0.70, -1.62), (0.75, -1.40), (0.85, -1.25), (0.92, -1.65),
    (1.00, -1.40), (1.08, -1.30), (1.12, -1.85), (1.18, -1.55), (1.25, -1.75), (1.30, -1.25), (1.38, -1.50),
    (1.45, -1.70), (1.52, -1.10), (1.58, -1.45), (1.62, -1.85), (1.68, -1.05), (1.78, -1.62), (1.85, -1.25),
    (1.90, -1.55), (2.00, -1.70), (2.08, -1.15), (0.35, -1.55), (0.25, -1.90), (0.40, -2.30), (0.55, -2.05),
    (0.70, -1.95), (0.85, -2.10), (0.98, -1.85), (1.15, -2.15), (1.35, -2.30), (0.60, -2.65), (0.20, -1.30),
    (0.10, -1.60),
    (0.45, -0.21), (0.50, -0.28), (0.36, 0.0), (0.31, 0.15), (0.80, 0.455), (0.77, 0.33), (0.91, 0.17),
    (1.0, 0.09), (0.84, -0.08), (0.73, -0.59),
]
c_transit = [
    (0.083, 1.43), (0.62, 1.33), (0.75, 1.27), (-0.03, 1.01), (0.26, 1.11), (0.25, 0.99), (0.175, 0.88),
    (0.54, 1.0), (0.61, 0.98), (0.73, 0.95), (0.82, 0.94), (0.96, 0.74), (1.05, 0.84), (1.19, 0.97),
    (1.26, 1.26), (1.31, 1.31), (1.48, 1.14), (1.58, 1.19), (1.51, 0.775), (1.61, 0.67), (1.71, 0.73),
    (1.83, 0.40), (1.43, 0.17), (1.60, 0.045), (1.68, -0.11), (1.97, 0.17), (2.08, 0.0), (2.06, -0.08),
    (1.96, -0.16), (2.0, -0.41), (2.10, -0.37), (1.83, -0.49), (1.79, -0.57), (1.51, -0.69), (1.60, -0.77),
    (1.74, -0.69), (1.84, -0.905), (1.83, -0.97), (2.24, -0.94), (2.45, -0.95), (2.36, -1.29), (2.29, -1.68),
    (2.47, -1.99), (-0.42, 0.15), (-0.75, -0.30), (-0.115, 0.03), (-0.10, 0.29), (-0.03, 0.43),
    (-0.10, 0.30), (-0.05, 0.20), (0.00, 0.40), (0.02, 0.15), (0.05, 0.30), (0.05, 0.50), (0.08, 0.05),
    (0.10, 0.35), (0.10, 0.22), (0.12, 0.55), (0.14, 0.10), (0.15, 0.40), (0.16, 0.28), (0.18, 0.00),
    (0.18, 0.60), (0.20, 0.18), (0.20, 0.45), (0.22, 0.32), (0.23, -0.05), (0.24, 0.10), (0.25, 0.25),
    (0.26, 0.52), (0.27, 0.38), (0.28, 0.05), (0.29, -0.15), (0.30, 0.18), (0.30, 0.30), (0.31, 0.65),
    (0.32, -0.02), (0.33, 0.10), (0.34, 0.42), (0.35, -0.10), (0.35, 0.22), (0.36, 0.05), (0.37, 0.32),
    (0.38, -0.20), (0.38, 0.15), (0.39, 0.00), (0.40, 0.50), (0.40, -0.08), (0.41, 0.25), (0.42, -0.30),
    (0.42, 0.10), (0.43, 0.02), (0.44, -0.15), (0.45, 0.38), (0.45, 0.18), (0.46, -0.05), (0.47, -0.40),
    (0.48, 0.08), (0.48, 0.28), (0.49, -0.22), (0.50, 0.00), (0.50, 0.60), (0.51, -0.50), (0.52, 0.15),
    (0.53, -0.12), (0.54, 0.35), (0.55, -0.30), (0.55, 0.05), (0.56, -0.60), (0.57, 0.22), (0.58, -0.20),
    (0.60, -0.05), (0.60, 0.45), (0.62, -0.40), (0.63, 0.12), (0.65, -0.25), (0.66, 0.30), (0.68, -0.10),
    (0.70, 0.05), (0.72, -0.35), (0.74, 0.20), (0.76, -0.15), (0.78, 0.50), (0.80, -0.05), (0.82, 0.12),
    (0.85, -0.30), (0.88, 0.30), (0.90, -0.12), (0.92, 0.05), (0.95, 0.22), (0.98, -0.22), (1.02, 0.10),
    (1.05, 0.40), (1.10, -0.08), (1.15, 0.25), (1.20, 0.55), (1.25, 0.05), (1.30, 0.35), (1.35, -0.15),
    (1.40, 0.50), (1.45, 0.15), (1.50, -0.35), (0.45, 0.70), (0.55, 0.80), (0.35, 0.78), (0.65, 0.65),
    (0.25, 0.70), (0.00, 0.62), (-0.12, 0.45), (-0.15, 0.10),
    (0.05, 0.62), (0.08, 0.48), (0.10, 0.70), (0.12, 0.38), (0.13, 0.58), (0.15, 0.25), (0.17, 0.52),
    (0.19, 0.35), (0.20, 0.68), (0.21, 0.08), (0.22, 0.42), (0.24, 0.58), (0.25, -0.10), (0.26, 0.15),
    (0.27, 0.30), (0.28, 0.48), (0.29, 0.62), (0.30, -0.05), (0.31, 0.40), (0.32, 0.20), (0.33, 0.55),
    (0.34, -0.25), (0.34, 0.08), (0.35, 0.32), (0.36, 0.45), (0.37, -0.12), (0.37, 0.60), (0.38, 0.10),
    (0.39, 0.28), (0.40, -0.35), (0.40, 0.15), (0.41, -0.02), (0.42, 0.38), (0.42, -0.18), (0.43, 0.20),
    (0.44, 0.05), (0.44, -0.42), (0.45, -0.25), (0.45, 0.30), (0.46, 0.12), (0.46, -0.10), (0.47, 0.45),
    (0.47, -0.30), (0.48, -0.02), (0.48, 0.20), (0.49, -0.45), (0.49, 0.08), (0.50, -0.15), (0.50, 0.35),
    (0.51, -0.35), (0.51, 0.15), (0.52, -0.05), (0.52, -0.55), (0.53, 0.25), (0.53, -0.25), (0.54, 0.02),
    (0.54, -0.65), (0.55, -0.15), (0.55, 0.42), (0.56, -0.40), (0.56, 0.10), (0.57, -0.08), (0.58, -0.50),
    (0.58, 0.30), (0.59, -0.28), (0.60, 0.18), (0.60, -0.68), (0.61, -0.12), (0.62, 0.05), (0.62, -0.45),
    (0.63, 0.35), (0.64, -0.20), (0.65, 0.10), (0.66, -0.55), (0.67, -0.02), (0.68, 0.22), (0.69, -0.32),
    (0.70, 0.40), (0.71, -0.15), (0.72, 0.08), (0.74, -0.45), (0.75, 0.28), (0.77, -0.25), (0.78, 0.02),
    (0.80, 0.18), (0.83, -0.40), (0.86, 0.45), (0.88, -0.18), (0.92, 0.30), (0.95, -0.05), (0.30, 0.75),
    (0.40, 0.85), (0.20, 0.85), (0.10, 0.85), (-0.05, 0.75), (-0.20, 0.55), (-0.25, 0.30), (0.0, 0.05),
    (-0.08, -0.05), (0.15, -0.20), (0.22, -0.35), (0.30, -0.50), (0.38, -0.62), (0.45, -0.78), (0.55, -0.85),
    (0.62, -0.92), (0.70, -0.80),
    (0.36, -0.05), (0.38, 0.22), (0.40, 0.05), (0.41, -0.22), (0.43, 0.12), (0.44, -0.08), (0.45, 0.00),
    (0.46, 0.22), (0.47, -0.18), (0.48, 0.12), (0.49, -0.05), (0.50, 0.20), (0.51, -0.25), (0.52, 0.05),
    (0.53, -0.08), (0.54, 0.15), (0.55, -0.22), (0.56, 0.00), (0.57, -0.35), (0.58, 0.10), (0.59, -0.12),
    (0.60, 0.28), (0.61, -0.30), (0.62, -0.02), (0.63, -0.55), (0.64, 0.15), (0.65, -0.40), (0.66, 0.05),
    (0.67, -0.20), (0.68, -0.60), (0.70, -0.05), (0.71, -0.45), (0.73, 0.12), (0.75, -0.30), (0.76, -0.62),
    (0.78, -0.10), (0.80, -0.50), (0.82, 0.05), (0.35, 0.55), (0.30, 0.45), (0.25, 0.38), (0.22, 0.60),
    (0.15, 0.72), (0.12, 0.20), (0.08, 0.35), (0.05, 0.10), (0.02, 0.50), (-0.02, 0.32), (0.18, 0.15),
    (0.28, 0.25), (0.33, 0.35), (0.28, 0.12), (0.42, 0.55), (0.52, 0.48), (0.62, 0.52), (0.58, 0.65),
    (0.48, 0.68), (0.38, 0.70),
    (0.47, -0.73), (0.50, -0.86), (0.68, -0.73), (0.79, -0.82), (0.54, -0.98), (0.72, -0.91), (0.81, -0.94),
    (-0.19, -1.46), (0.0, -1.55), (-0.14, -1.65), (-0.10, -1.74), (0.07, -1.80), (0.15, -1.93), (-0.56, -1.79),
    (-0.46, -1.99), (-0.18, -1.99), (-0.08, -1.99), (0.12, -1.18), (0.49, -1.09), (0.36, -1.45), (0.41, -1.59),
    (0.22, -1.64), (0.54, -1.51), (0.61, -1.61), (0.68, -1.39), (0.77, -1.43), (0.87, -1.37), (0.94, -1.49),
    (0.96, -1.64), (1.03, -1.72), (1.12, -1.55), (1.14, -1.68), (1.24, -1.49), (1.30, -1.59), (1.37, -1.35),
    (1.47, -1.51), (1.60, -1.27), (1.70, -1.39), (1.88, -1.49), (0.73, -1.68), (0.82, -1.76), (0.36, -1.76),
    (0.45, -1.84), (0.64, -1.92), (0.87, -1.88), (1.0, -1.94), (1.14, -2.0), (0.96, -2.21), (1.12, -2.21),
    (0.20, -2.27), (0.37, -2.35), (0.55, -2.23), (0.17, -2.56), (0.55, -2.57), (0.77, -2.70), (0.95, -2.66),
    (1.17, -2.61), (1.35, -2.54), (1.35, -2.69), (0.59, -2.88), (0.89, -3.03), (1.54, -2.20), (1.68, -2.17),
    (1.54, -2.0), (1.06, -2.21), (1.14, -1.23), (1.26, -1.16), (1.33, -1.06), (1.03, -1.06), (1.09, -1.14),
    (0.77, -1.14), (0.88, -1.29), (0.58, -1.23), (0.71, -1.27), (1.37, -0.69), (1.28, -0.86), (1.14, -0.94),
    (1.51, -0.84),
    (0.30, -1.30), (0.42, -1.42), (0.50, -1.20), (0.58, -1.60), (0.65, -1.30), (0.72, -1.52), (0.80, -1.35),
    (0.85, -1.58), (0.92, -1.20), (0.98, -1.40), (1.05, -1.58), (1.10, -1.40), (1.18, -1.30), (1.22, -1.70),
    (1.30, -1.45), (1.40, -1.25), (1.45, -1.60), (0.60, -1.80), (0.78, -1.95), (0.90, -2.05), (0.30, -2.05),
    (0.40, -2.10), (0.10, -2.10), (0.55, -1.05), (0.65, -1.05), (0.95, -0.85), (1.10, -0.70), (1.20, -0.50),
    (1.00, -0.55), (0.85, -0.60),
]
c_astrometry = [(2.38, 1.455)]
c_lensing = [(3.07, 1.131), (3.72, 0.689), (3.28, 0.42), (3.23, -0.127), (3.39, -0.586), (3.67, -0.557),
             (3.43, -1.463), (3.49, -1.75)]
c_imaging = [(3.85, 1.324), (3.99, 1.02), (4.56, 1.0), (4.62, 0.906), (4.82, 1.0), (5.21, 0.848), (6.84, 1.148)]
c_other = [
    (-1.05, 0.082), (-0.50, -0.098), (0.61, -0.418), (0.32, -0.754), (0.79, -0.733), (0.866, -0.693),
    (0.84, -1.02), (1.34, -0.20), (1.74, -0.418), (1.73, -0.94), (1.86, -1.176), (1.447, -1.39),
    (1.48, -1.45), (1.07, -1.45), (0.95, -1.55), (0.66, -1.94), (1.82, -1.86), (1.97, -1.90), (2.86, 1.377),
    (3.38, 1.344), (2.35, 0.885), (2.80, 0.865), (2.89, 1.07), (3.26, 0.885), (3.35, 0.775), (2.99, 0.385),
    (3.06, 0.496), (3.98, -2.2), (3.60, 1.13), (3.66, 1.164), (3.98, 0.775), (3.91, 0.74), (3.62, 0.652),
    (3.45, 0.42), (3.75, 0.865),
]
c_other_sq = [(-0.475, -2.668), (-0.627, -2.844)]

LBL_RV = 'Měření radiální'
LBL_RV2 = ' rychlosti'
LBL_TR = 'Tranzity'
LBL_AS = 'Astrometrie'
LBL_LE = 'Efekt gravitační čočky'
LBL_IM = 'Přímé zobrazení'
LBL_OT = 'Ostatní metody'


def xy(pairs, logy=True):
    arr = np.array(pairs, dtype=float)
    x = 10.0 ** arr[:, 0]
    y = 10.0 ** arr[:, 1] if logy else arr[:, 1]
    return x, y


def pts(ax, pairs, logy=True, **kw):
    x, y = xy(pairs, logy)
    ax.plot(x, y, linestyle='none', **kw)


def style(ax, ypad):
    for s in ax.spines.values():
        s.set_linewidth(1.6)
    ax.tick_params(which='both', direction='in', top=True, right=True, labelsize=18)
    ax.tick_params(which='major', length=10, width=1.5, pad=6)
    ax.tick_params(which='minor', length=5, width=1.2)
    ax.tick_params(axis='y', labelrotation=90, pad=ypad)
    for t in ax.get_yticklabels():
        t.set_va('center')


def labels(ax, xtext, ytext, xpos, ypos):
    ax.set_xlabel(xtext, fontsize=16)
    ax.set_ylabel(ytext, fontsize=16)
    ax.xaxis.label.set_va('center')
    ax.yaxis.label.set_va('center')
    ax.xaxis.set_label_coords(*xpos)
    ax.yaxis.set_label_coords(*ypos)


def logx(ax):
    ax.set_xscale('log')
    ax.xaxis.set_major_locator(LogLocator(base=10, numticks=20))
    ax.xaxis.set_minor_locator(LogLocator(base=10, subs=np.arange(2, 10), numticks=200))
    ax.xaxis.set_minor_formatter(NullFormatter())


def logy(ax):
    ax.set_yscale('log')
    ax.yaxis.set_major_locator(LogLocator(base=10, numticks=20))
    ax.yaxis.set_minor_locator(LogLocator(base=10, subs=np.arange(2, 10), numticks=200))
    ax.yaxis.set_minor_formatter(NullFormatter())


def mk(marker, color, ms, filled=True, alpha=1.0, mew=0.9):
    return Line2D([], [], linestyle='none', marker=marker, markersize=ms, alpha=alpha,
                  markerfacecolor=color if filled else 'none', markeredgecolor=color, markeredgewidth=mew)


def legend(ax, handles, labels, colors, anchor, hl, hpad, spacing):
    leg = ax.legend(handles, labels, loc='upper left', bbox_to_anchor=anchor, frameon=False,
                    fontsize=16.5, handlelength=hl, handletextpad=hpad, labelspacing=spacing,
                    borderpad=0, borderaxespad=0,
                    handler_map={tuple: HandlerTuple(ndivide=None, pad=0.2)})
    for t, c in zip(leg.get_texts(), colors):
        t.set_color(c)


blank = Line2D([], [], linestyle='none', marker='')

fig = plt.figure(figsize=(8.18, 16.93), dpi=100)

# ---------------- a)
ax = fig.add_axes([0.1137, 0.7023, 0.8716, 0.2735])
pts(ax, a_transit, marker='s', ms=5.2, mfc='none', mec=GREEN, mew=0.9, alpha=0.55)
pts(ax, a_rv, marker='o', ms=4.2, mfc='none', mec=RED, mew=0.9, alpha=0.85)
pts(ax, a_other, marker='p', ms=6.5, color=KHAKI, mec=KHAKI)
pts(ax, a_other_sq, marker='s', ms=3.2, color=ORANGE)
logx(ax)
logy(ax)
ax.set_xlim(10 ** -3.24, 10 ** 2.13)
ax.set_ylim(1e-2, 1e2)
style(ax, 6)
labels(ax, 'Hmotnost [M$_{\\mathrm{Jupiteru}}$]', 'Hustota [g/cm$^{-3}$]', (0.506, -0.1015), (-0.095, 0.5))
ax.text(0.952, 0.896, 'a)', transform=ax.transAxes, fontsize=20, ha='center', va='center')
legend(ax,
       [mk('o', RED, 6, False, 0.85), blank, mk('s', GREEN, 8, False, 0.7),
        (mk('p', KHAKI, 11), mk('s', ORANGE, 4.5))],
       [LBL_RV, LBL_RV2, LBL_TR, LBL_OT], [RED, RED, GREEN, 'black'],
       (0.6255, 0.323), 1.6, 0.7, 0.2)

# ---------------- b)
ax = fig.add_axes([0.1112, 0.3739, 0.8741, 0.2741])
pts(ax, b_transit, logy=False, marker='s', ms=4.6, mfc='none', mec=GREEN, mew=0.9, alpha=0.55)
pts(ax, b_rv, logy=False, marker='o', ms=3.8, mfc='none', mec=RED, mew=0.8, alpha=0.85)
pts(ax, b_astrometry, logy=False, marker='o', ms=3.5, color=GRAY)
pts(ax, b_lensing, logy=False, marker='^', ms=5.5, color=PURPLE)
pts(ax, b_imaging, logy=False, marker='*', ms=7.5, color=BLUE)
pts(ax, b_other, logy=False, marker='p', ms=6.5, color=KHAKI, mec=KHAKI)
logx(ax)
ax.set_xlim(10 ** -1.39, 10 ** 7.13)
ax.set_ylim(-0.05, 1.045)
ax.set_yticks([0, 0.5, 1])
ax.set_yticklabels(['0', '0,5', '1'])
ax.yaxis.set_minor_locator(MultipleLocator(0.1))
style(ax, 10)
ax.tick_params(axis='y', which='minor', length=8)
labels(ax, 'Doba oběhu [dny]', 'Excentricita', (0.49, -0.101), (-0.076, 0.5))
ax.text(0.944, 0.894, 'b)', transform=ax.transAxes, fontsize=20, ha='center', va='center')
legend(ax,
       [mk('o', RED, 4.2, False), blank, mk('s', GREEN, 5.5, False), mk('o', GRAY, 4.2),
        mk('^', PURPLE, 6.5), mk('*', BLUE, 9), mk('p', KHAKI, 9)],
       [LBL_RV, LBL_RV2, LBL_TR, LBL_AS, LBL_LE, LBL_IM, LBL_OT],
       [RED, RED, GREEN, GRAY, PURPLE, BLUE, KHAKI],
       (0.024, 0.962), 0.8, 0.3, 0.14)

# ---------------- c)
ax = fig.add_axes([0.1137, 0.04164, 0.8716, 0.2726])
pts(ax, c_transit, marker='s', ms=5.0, mfc='none', mec=GREEN, mew=0.9, alpha=0.55)
pts(ax, c_rv, marker='o', ms=4.0, mfc='none', mec=RED, mew=0.8, alpha=0.85)
pts(ax, c_astrometry, marker='o', ms=3.5, color=GRAY)
pts(ax, c_lensing, marker='^', ms=5.5, color=PURPLE)
pts(ax, c_imaging, marker='*', ms=7.5, color=BLUE)
pts(ax, c_other, marker='p', ms=7, color=KHAKI, mec=KHAKI)
pts(ax, c_other_sq, marker='s', ms=3.2, color=ORANGE)
logx(ax)
logy(ax)
ax.set_xlim(10 ** -1.44, 10 ** 8.42)
ax.set_ylim(10 ** -3.145, 10 ** 2.53)
style(ax, 7)
labels(ax, 'Doba oběhu [dny]', 'Hmotnost [M$_{\\mathrm{Jupiteru}}$]', (0.525, -0.109), (-0.09, 0.5))
ax.text(0.917, 0.861, 'c)', transform=ax.transAxes, fontsize=20, ha='center', va='center')
legend(ax,
       [mk('o', RED, 4.2, False), blank, mk('s', GREEN, 5.5, False), mk('o', GRAY, 4.2),
        mk('^', PURPLE, 6.5), mk('*', BLUE, 9), (mk('p', KHAKI, 9), mk('s', ORANGE, 4))],
       [LBL_RV, LBL_RV2, LBL_TR, LBL_AS, LBL_LE, LBL_IM, LBL_OT],
       [RED, RED, GREEN, GRAY, PURPLE, BLUE, 'black'],
       (0.575, 0.432), 0.8, 0.3, 0.14)

fig.savefig('out.png', dpi=100)
